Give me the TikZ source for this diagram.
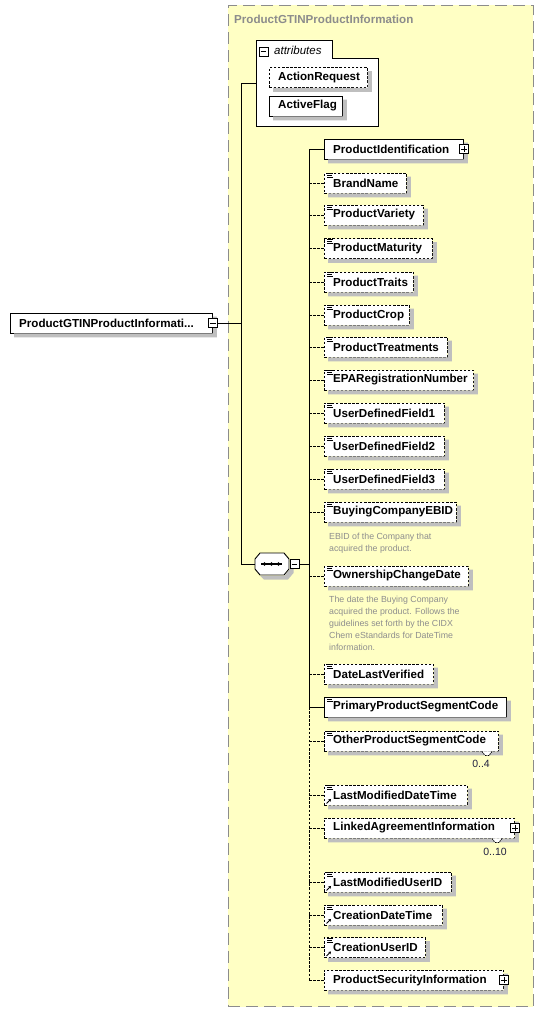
\documentclass[tikz,border=0pt]{standalone}
\usepackage{fontspec}
\setmainfont{Liberation Sans}
\usetikzlibrary{arrows.meta,calc}
\definecolor{bgyellow}{HTML}{FFFFC4}
\definecolor{frameg}{HTML}{8C8C8C}
\colorlet{shcol}{black!25}
\definecolor{anngray}{HTML}{8E8E8E}
\definecolor{multc}{HTML}{202040}
\tikzset{
  ebox/.style={draw=black, fill=white, line width=0.9pt, minimum height=20pt, inner sep=0pt, anchor=west},
  optbox/.style={ebox, dash pattern=on 2.5pt off 1.6pt},
  lbl/.style={font=\fontsize{11.6}{13}\selectfont\bfseries, inner sep=0pt, anchor=west},
  ann/.style={font=\fontsize{8.8}{12}\selectfont, text=anngray, inner sep=0pt, anchor=north west, align=left},
  conn/.style={line width=0.9pt},
  optconn/.style={conn, dash pattern=on 2.5pt off 1.6pt},
  expbox/.style={draw=black, fill=white, line width=0.8pt, minimum size=9pt, inner sep=0pt},
  mult/.style={font=\fontsize{10.5}{12}\selectfont, text=multc, inner sep=0pt},
  framebox/.style={draw=frameg, fill=bgyellow, line width=1pt, dash pattern=on 12pt off 6pt, inner sep=0pt},
  shadowfill/.style={fill=shcol, draw=none},
}
\newcommand\shad[1]{%
  \path[shadowfill] ($(#1.north east)+(0,4)$) -- ($(#1.north east)+(4,4)$) -- ($(#1.south east)+(4,4)$)
    -- ($(#1.south west)+(4,4)$) -- ($(#1.south west)+(4,0)$) -- (#1.south east) -- cycle;}
\newcommand\mkel[6]{%
  \node[#5, minimum width={(#3-324)*1pt}] (#1) at (324,#2) {};
  \shad{#1}
  \node[lbl] (#1-t) at (333,#2) {#4};
  \draw[#6] (#1.west -| sp) -- (#1.west);
}
\newcommand\txticon[1]{%
  \draw[line width=0.6pt] ([xshift=3pt,yshift=-1.2pt]#1.north west) -- ++(6,0)
    ([xshift=3pt,yshift=-3pt]#1.north west) -- ++(5,0)
    ([xshift=3pt,yshift=-4.8pt]#1.north west) -- ++(6,0);}
\newcommand\reficon[1]{%
  \draw[line width=0.9pt,-{Stealth[length=2.6pt,width=3.2pt]}] ([xshift=2.5pt,yshift=2pt]#1.south west) -- ++(4.5,-4.5);}
\newcommand\plusx[1]{%
  \node[expbox] (#1-x) at (#1.east) {};
  \draw[line width=0.7pt] ([xshift=2pt]#1-x.west) -- ([xshift=-2pt]#1-x.east)
    ([yshift=2pt]#1-x.south) -- ([yshift=-2pt]#1-x.north);}
\newcommand\minusx[2]{%
  \node[expbox] (#1) at #2 {};
  \draw[line width=0.7pt] ([xshift=2pt]#1.west) -- ([xshift=-2pt]#1.east);}
\begin{document}
\begin{tikzpicture}[x=1pt,y=-1pt]
\useasboundingbox (0,0) rectangle (544,1014);
% frame
\node[framebox, minimum width=305pt, minimum height=1001pt, anchor=north west] (frame) at (227.5,5) {};
\node[font=\fontsize{11.6}{13}\selectfont\bfseries, text=frameg, inner sep=0pt, anchor=west] (title) at (234,19.5) {ProductGTINProductInformation};
\coordinate (spA) at (241,0);
\coordinate (sp) at (309,0);
% attributes
\draw[line width=0.9pt, fill=white] (256,126) -- (256,40) -- (332,40) -- (332,58) -- (378,58) -- (378,126) -- cycle;
\node[inner sep=0pt, minimum width=122pt, minimum height=86pt, anchor=north west] (attr) at (256,40) {};
\minusx{attrx}{(263.5,51.5)}
\node[font=\fontsize{11.5}{13}\selectfont\itshape, anchor=west, inner sep=0pt] (attrt) at (274,50) {attributes};
\node[optbox, minimum width=98pt] (ar) at (269,77.5) {};
\shad{ar}
\node[lbl] (ar-t) at (278,77.5) {ActionRequest};
\node[ebox, minimum width=73pt] (af) at (269,106) {};
\shad{af}
\node[lbl] (af-t) at (278,106) {ActiveFlag};
% root
\node[ebox, minimum width=202pt] (root) at (10,323) {};
\shad{root}
\node[lbl] (root-t) at (19,323) {ProductGTINProductInformati...};
\minusx{rootx}{(root.east)}
% sequence
\draw[line width=0.9pt, fill=white] (260,553) -- (284,553) -- (289,559) -- (289,569) -- (284,575) -- (260,575) -- (255,569) -- (255,559) -- cycle;
\path[shadowfill] (289.5,562) -- (293.5,563) -- (293.5,573) -- (288,579.5) -- (264,579.5) -- (260,575.5) -- (284.5,575.5) -- (289.5,569.5) -- cycle;
\node[inner sep=0pt, minimum width=34pt, minimum height=22pt] (seq) at (272,564) {};
\draw[line width=1.1pt] (261,564) -- (282,564);
\fill (264.5,564) circle (1.8) (271.5,564) circle (1.8) (278.5,564) circle (1.8);
\minusx{seqx}{(294.5,564)}
% main connectors
\draw[conn] (attr.west) -- (attr.west -| spA) -- (seq.west -| spA) -- (seq.west);
\draw[conn] (rootx.east) -- (rootx.east -| spA);
\draw[conn] (seqx.east) -- (seqx.east -| sp);
% elements
\mkel{pid}{149}{463}{ProductIdentification}{ebox}{conn}
\plusx{pid}
\mkel{bn}{183}{406}{BrandName}{optbox}{optconn}\txticon{bn}
\mkel{pv}{215}{423}{ProductVariety}{optbox}{optconn}\txticon{pv}
\mkel{pm}{248.5}{432}{ProductMaturity}{optbox}{optconn}\txticon{pm}
\mkel{pt}{282}{413}{ProductTraits}{optbox}{optconn}\txticon{pt}
\mkel{pc}{315}{409}{ProductCrop}{optbox}{optconn}\txticon{pc}
\mkel{ptr}{347}{447}{ProductTreatments}{optbox}{optconn}\txticon{ptr}
\mkel{epa}{380}{473}{EPARegistrationNumber}{optbox}{optconn}\txticon{epa}
\mkel{ua}{413}{444}{UserDefinedField1}{optbox}{optconn}\txticon{ua}
\mkel{ub}{446}{444}{UserDefinedField2}{optbox}{optconn}\txticon{ub}
\mkel{uc}{479}{444}{UserDefinedField3}{optbox}{optconn}\txticon{uc}
\mkel{bce}{512}{456}{BuyingCompanyEBID}{optbox}{optconn}\txticon{bce}
\node[ann] (bce-a) at (329,532.5) {EBID of the Company that\\acquired the product.};
\mkel{ocd}{576}{468}{OwnershipChangeDate}{optbox}{optconn}\txticon{ocd}
\node[ann] (ocd-a) at (329,595.5) {The date the Buying Company\\acquired the product. Follows the\\guidelines set forth by the CIDX\\Chem eStandards for DateTime\\information.};
\mkel{dlv}{674}{433}{DateLastVerified}{optbox}{optconn}\txticon{dlv}
\mkel{ppsc}{707}{506}{PrimaryProductSegmentCode}{ebox}{conn}\txticon{ppsc}
\mkel{opsc}{741}{498}{OtherProductSegmentCode}{optbox}{optconn}\txticon{opsc}
\draw[line width=0.8pt, fill=white, dash pattern=on 1.5pt off 1pt] (opsc.south west) ++(158,0) -- ++(3,4) -- ++(4,0) -- ++(3,-4);
\node[mult] (opsc-m) at (481,764) {0..4};
\mkel{lmdt}{795}{467}{LastModifiedDateTime}{optbox}{optconn}\txticon{lmdt}\reficon{lmdt}
\mkel{lai}{828}{514}{LinkedAgreementInformation}{optbox}{optconn}
\draw[line width=0.8pt, fill=white, dash pattern=on 1.5pt off 1pt] (lai.south west) ++(168,0) -- ++(3,4) -- ++(4,0) -- ++(3,-4);
\plusx{lai}
\node[mult] (lai-m) at (495,852) {0..10};
\mkel{lmu}{882}{451}{LastModifiedUserID}{optbox}{optconn}\txticon{lmu}\reficon{lmu}
\mkel{cdt}{915}{442}{CreationDateTime}{optbox}{optconn}\txticon{cdt}\reficon{cdt}
\mkel{cu}{947.5}{425}{CreationUserID}{optbox}{optconn}\txticon{cu}\reficon{cu}
\mkel{psi}{980}{503}{ProductSecurityInformation}{optbox}{optconn}
\plusx{psi}
% spine
\draw[conn] (pid.west -| sp) -- (ppsc.west -| sp);
\draw[optconn] (ppsc.west -| sp) -- (psi.west -| sp);
\end{tikzpicture}
\end{document}
